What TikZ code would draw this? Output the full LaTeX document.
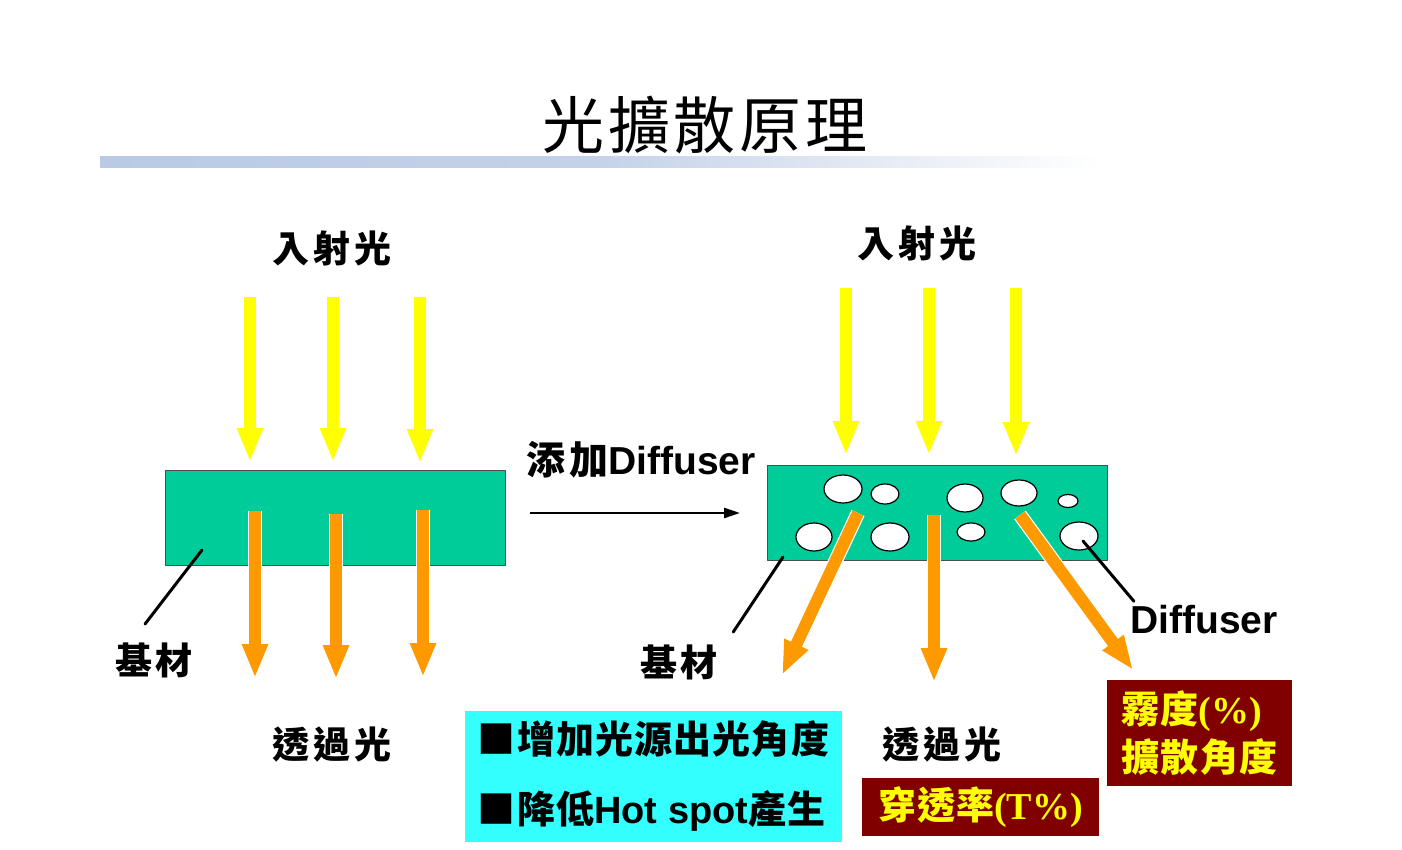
\documentclass[tikz,border=0pt]{standalone}
\usepackage{fontspec}
\setmainfont{Liberation Sans}
\newfontfamily\zh{Noto Sans CJK TC}[LetterSpace=10]
\newfontfamily\zhbox{Noto Sans CJK TC}[LetterSpace=3]
\newfontfamily\zhtitle{Noto Sans CJK TC}[LetterSpace=6]
\newfontfamily\tms{Liberation Serif}
\usetikzlibrary{arrows.meta}
\definecolor{plate}{RGB}{0,204,153}
\definecolor{ray}{RGB}{255,255,0}
\definecolor{outray}{RGB}{255,153,0}
\definecolor{boxred}{RGB}{128,0,0}
\definecolor{boxcyan}{RGB}{51,255,255}
\definecolor{bar}{RGB}{186,202,228}
\begin{document}
\begin{tikzpicture}[x=0.5pt, y=-0.5pt, line join=round,
    lab/.style={font=\zh\bfseries\fontsize{18.5}{20}\selectfont, inner sep=1pt},
    lat/.style={font=\bfseries\fontsize{19.5}{22}\selectfont, inner sep=1pt},
    plate/.style={draw=black!70, thin, fill=plate, minimum width=170pt, minimum height=47.5pt, inner sep=0pt},
    inray/.style={line width=6pt, draw=ray, -{Triangle[width=12pt,length=17pt]}},
    outray/.style={line width=6pt, draw=outray, -{Triangle[width=12pt,length=17pt]},
      preaction={draw=white, line width=7.2pt, -, shorten >=16pt}},
    lead/.style={line width=1.5pt, line cap=round},
    hole/.style={draw=black, fill=white, line width=0.6pt}]
  \useasboundingbox (0,0) rectangle (1402,850);
  % title
  \shade[left color=bar, right color=white, middle color=bar!85] (100,157) rectangle (1100,168);
  \node[font=\zhtitle\fontsize{31}{34}\selectfont] (title) at (705,125) {光擴散原理};
  % left: plain base
  \node[lab] (inL) at (332,248) {入射光};
  \foreach \x/\t in {250/462, 333/462, 420/463}
    \draw[inray] (\x,297) -- (\x,\t);
  \node[plate] (baseL) at (335,517.5) {};
  \foreach \x/\s/\t in {255/511/678, 336/514/679, 423/510/677}
    \draw[outray] (\x,\s) -- (\x,\t);
  \node[lab] (baseLlab) at (154,660) {基材};
  \coordinate (baseLpt) at (202,550);
  \draw[lead] ([shift={(-9,-16)}]baseLlab.north) -- (baseLpt);
  \node[lab] (outL) at (332,745) {透過光};
  % middle arrow
  \node[font=\bfseries\fontsize{19.5}{22}\selectfont, inner sep=1pt] (add) at (641,460) {{\zh 添加}Diffuser};
  \coordinate (addA) at (530,513);
  \coordinate (addB) at (740,513);
  \draw[line width=1.2pt, -{Triangle[width=5pt,length=8pt]}] (addA) -- (addB);
  % right: base with diffuser
  \node[lab] (inR) at (917,243) {入射光};
  \foreach \x/\t in {846/455, 929/455, 1016/456}
    \draw[inray] (\x,288) -- (\x,\t);
  \node[plate] (baseR) at (937,512.5) {};
  \foreach \x/\y/\a/\b in {843/489/19/14, 885/494/14/10, 965/498/18/14, 1019/493/18/13,
      1068/501/10/6.5, 814/537/18/14, 890/537/19/14, 971/532/14/9, 1079/536/19/14}
    \draw[hole] (\x,\y) ellipse [x radius=\a*0.5pt, y radius=\b*0.5pt];
  \coordinate (rayA) at (858,513);
  \coordinate (rayB) at (934,515);
  \coordinate (rayC) at (1020,515);
  \draw[outray] (rayA) -- (782,675);
  \draw[outray] (rayB) -- (934,682);
  \draw[outray] (rayC) -- (1133,670);
  \node[lab] (baseRlab) at (679,662) {基材};
  \coordinate (baseRpt) at (783,557);
  \draw[lead] ([shift={(13,-10)}]baseRlab.north east) -- (baseRpt);
  \node[lat] (dif) at (1204,620) {Diffuser};
  \coordinate (difpt) at (1083,541);
  \draw[lead] ([shift={(6,-2)}]dif.north west) -- (difpt);
  \node[lab] (outR) at (942,745) {透過光};
  % boxes
  \node[fill=boxcyan, minimum width=188.5pt, minimum height=65.5pt, align=left,
    font=\bfseries\fontsize{19}{35}\selectfont] (gain) at (653.5,776.5)
    {{\zhbox ■增加光源出光角度}\\{\zhbox ■降低}Hot spot{\zhbox 產生}};
  \node[fill=boxred, text=ray, minimum width=118.5pt, minimum height=29pt,
    font=\bfseries\fontsize{19}{22}\selectfont] (trans) at (980.5,807)
    {{\zhbox 穿透率}{\tms (T\%)}};
  \node[fill=boxred, text=ray, minimum width=92.5pt, minimum height=53pt, align=left,
    font=\bfseries\fontsize{19}{24}\selectfont] (haze) at (1199.5,733)
    {{\zhbox 霧度}{\tms (\%)}\\{\zhbox 擴散角度}};
\end{tikzpicture}
\end{document}
